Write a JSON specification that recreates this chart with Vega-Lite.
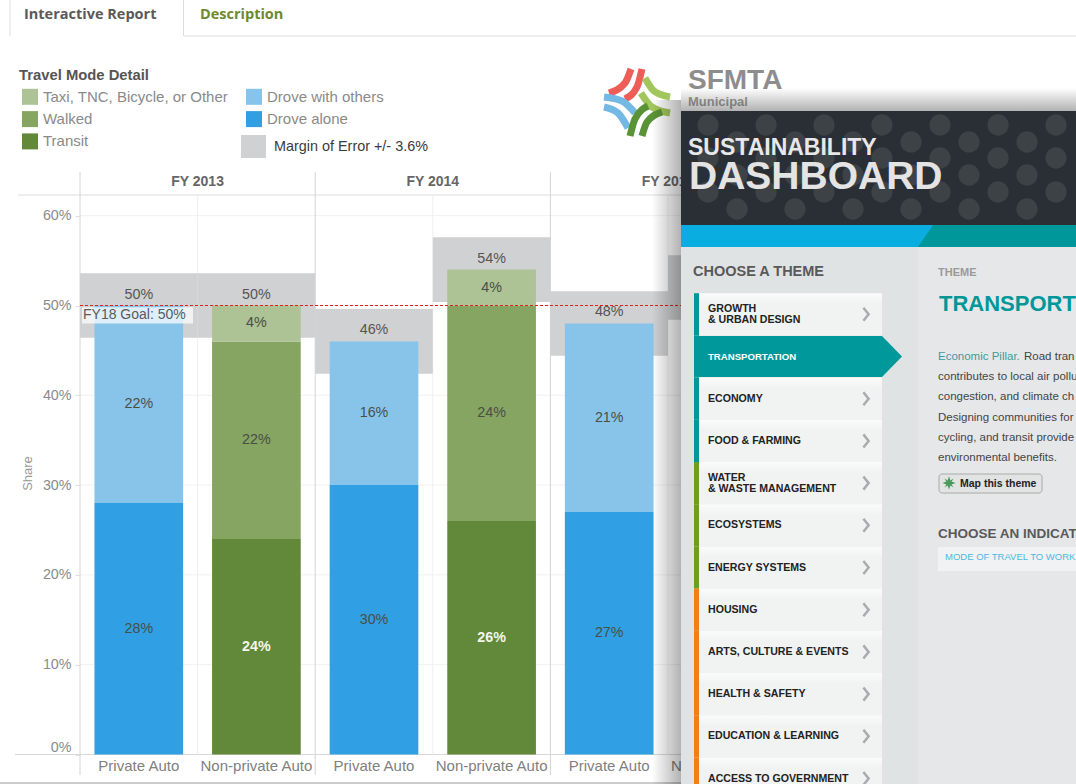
{
"$schema":"https://vega.github.io/schema/vega-lite/v6.json",
"width":1076,"height":784,"padding":0,"autosize":{"type":"fit","contains":"padding"},"background":"#ffffff",
"config":{"view":{"stroke":null},"font":"Liberation Sans","text":{"font":"Liberation Sans"}},
"datasets":{
"bars":[
{"fy":"FY 2013","group":"Private Auto","mode":"Drove alone","share":28},
{"fy":"FY 2013","group":"Private Auto","mode":"Drove with others","share":22},
{"fy":"FY 2013","group":"Non-private Auto","mode":"Transit","share":24},
{"fy":"FY 2013","group":"Non-private Auto","mode":"Walked","share":22},
{"fy":"FY 2013","group":"Non-private Auto","mode":"Taxi, TNC, Bicycle, or Other","share":4},
{"fy":"FY 2014","group":"Private Auto","mode":"Drove alone","share":30},
{"fy":"FY 2014","group":"Private Auto","mode":"Drove with others","share":16},
{"fy":"FY 2014","group":"Non-private Auto","mode":"Transit","share":26},
{"fy":"FY 2014","group":"Non-private Auto","mode":"Walked","share":24},
{"fy":"FY 2014","group":"Non-private Auto","mode":"Taxi, TNC, Bicycle, or Other","share":4},
{"fy":"FY 2015","group":"Private Auto","mode":"Drove alone","share":27},
{"fy":"FY 2015","group":"Private Auto","mode":"Drove with others","share":21}],
"totals":[
{"fy":"FY 2013","group":"Private Auto","total":50},
{"fy":"FY 2013","group":"Non-private Auto","total":50},
{"fy":"FY 2014","group":"Private Auto","total":46},
{"fy":"FY 2014","group":"Non-private Auto","total":54},
{"fy":"FY 2015","group":"Private Auto","total":48},
{"fy":"FY 2015","group":"Non-private Auto","total":52}],
"grid":[{"share":0},{"share":10},{"share":20},{"share":30},{"share":40},{"share":50},{"share":60}],
"goal":[{"goal":50,"label":"FY18 Goal: 50%"}],
"menu":[
{"theme":"GROWTH\n& URBAN DESIGN","i":0,"pillar":"Economic"},
{"theme":"TRANSPORTATION","i":1,"pillar":"Economic"},
{"theme":"ECONOMY","i":2,"pillar":"Economic"},
{"theme":"FOOD & FARMING","i":3,"pillar":"Economic"},
{"theme":"WATER\n& WASTE MANAGEMENT","i":4,"pillar":"Environmental"},
{"theme":"ECOSYSTEMS","i":5,"pillar":"Environmental"},
{"theme":"ENERGY SYSTEMS","i":6,"pillar":"Environmental"},
{"theme":"HOUSING","i":7,"pillar":"Social"},
{"theme":"ARTS, CULTURE & EVENTS","i":8,"pillar":"Social"},
{"theme":"HEALTH & SAFETY","i":9,"pillar":"Social"},
{"theme":"EDUCATION & LEARNING","i":10,"pillar":"Social"},
{"theme":"ACCESS TO GOVERNMENT","i":11,"pillar":"Social"}],
"panels":[
{"k":"margin","u":241,"u2":266,"v":135,"v2":158},
{"k":"header","u":681,"u2":1076,"v":111,"v2":225},
{"k":"teal","u":681,"u2":1076,"v":225,"v2":247},
{"k":"left","u":681,"u2":918,"v":247,"v2":784},
{"k":"right","u":918,"u2":1076,"v":247,"v2":784},
{"k":"box","u":938,"u2":1076,"v":547,"v2":571}],
"lines":[
{"k":"tab","u":10,"u2":10,"v":0,"v2":36},
{"k":"tab","u":183.5,"u2":183.5,"v":0,"v2":36},
{"k":"tab","u":184,"u2":1076,"v":36,"v2":36},
{"k":"page","u":0,"u2":681,"v":783,"v2":783}],
"logo":[
{"s":"r1","k":"red","n":0,"u":631,"v":69},{"s":"r1","k":"red","n":1,"u":625,"v":83},{"s":"r1","k":"red","n":2,"u":609,"v":93},
{"s":"r2","k":"red","n":0,"u":642,"v":69},{"s":"r2","k":"red","n":1,"u":637,"v":87},{"s":"r2","k":"red","n":2,"u":625,"v":99},
{"s":"b1","k":"blue","n":0,"u":604,"v":97},{"s":"b1","k":"blue","n":1,"u":622,"v":101},{"s":"b1","k":"blue","n":2,"u":635,"v":113},
{"s":"b2","k":"blue","n":0,"u":604,"v":107},{"s":"b2","k":"blue","n":1,"u":618,"v":113},{"s":"b2","k":"blue","n":2,"u":628,"v":128},
{"s":"g1","k":"lime","n":0,"u":645,"v":78},{"s":"g1","k":"lime","n":1,"u":654,"v":91},{"s":"g1","k":"lime","n":2,"u":670,"v":97},
{"s":"g2","k":"lime","n":0,"u":641,"v":93},{"s":"g2","k":"lime","n":1,"u":652,"v":107},{"s":"g2","k":"lime","n":2,"u":670,"v":113},
{"s":"d1","k":"forest","n":0,"u":630,"v":136},{"s":"d1","k":"forest","n":1,"u":635,"v":119},{"s":"d1","k":"forest","n":2,"u":648,"v":106},
{"s":"d2","k":"forest","n":0,"u":642,"v":136},{"s":"d2","k":"forest","n":1,"u":647,"v":122},{"s":"d2","k":"forest","n":2,"u":662,"v":112}],
"dots":[
{"u":708,"v":125},{"u":766,"v":125},{"u":824,"v":125},{"u":882,"v":125},{"u":940,"v":125},{"u":998,"v":125},{"u":1056,"v":125},
{"u":737,"v":142},{"u":795,"v":142},{"u":853,"v":142},{"u":911,"v":142},{"u":969,"v":142},{"u":1027,"v":142},
{"u":708,"v":158},{"u":766,"v":158},{"u":824,"v":158},{"u":882,"v":158},{"u":940,"v":158},{"u":998,"v":158},{"u":1056,"v":158},
{"u":737,"v":175},{"u":795,"v":175},{"u":853,"v":175},{"u":911,"v":175},{"u":969,"v":175},{"u":1027,"v":175},
{"u":708,"v":192},{"u":766,"v":192},{"u":824,"v":192},{"u":882,"v":192},{"u":940,"v":192},{"u":998,"v":192},{"u":1056,"v":192},
{"u":737,"v":209},{"u":795,"v":209},{"u":853,"v":209},{"u":911,"v":209},{"u":969,"v":209},{"u":1027,"v":209}],
"brand":[
{"t":"SFMTA","u":688,"v":81,"k":"sfmta"},
{"t":"Municipal","u":688,"v":102,"k":"agency"}],
"textBold":[
{"t":"SUSTAINABILITY","u":688,"v":148,"k":"dash1"},
{"t":"DASHBOARD","u":689,"v":177,"k":"dash2"},
{"t":"CHOOSE A THEME","u":693,"v":272,"k":"head"},
{"t":"THEME","u":938,"v":273,"k":"minor"},
{"t":"TRANSPORT","u":939,"v":304,"k":"title"},
{"t":"Map this theme","u":960,"v":484,"k":"button"},
{"t":"CHOOSE AN INDICAT","u":938,"v":534,"k":"indicator"}],
"textPlain":[
{"t":"Margin of Error +/- 3.6%","u":274,"v":147,"k":"moe"},
{"t":"Economic Pillar.","u":938,"v":357,"k":"pillar"},
{"t":"Road tran","u":1024,"v":357,"k":"body"},
{"t":"contributes to local air pollu","u":938,"v":377,"k":"body"},
{"t":"congestion, and climate ch","u":938,"v":397,"k":"body"},
{"t":"Designing communities for","u":938,"v":418,"k":"body"},
{"t":"cycling, and transit provide","u":938,"v":438,"k":"body"},
{"t":"environmental benefits.","u":938,"v":458,"k":"body"},
{"t":"MODE OF TRAVEL TO WORK","u":945,"v":557,"k":"link"}],
"tabs":[
{"t":"Interactive Report","u":24,"v":15,"k":"active"},
{"t":"Description","u":200,"v":15,"k":"other"}],
"button":[{"u":939,"u2":1042,"v":474,"v2":493}],
"star":[{"u":949,"v":483}],
"slant":[{"u":933,"u2":681,"v":225},{"u":918,"u2":681,"v":247}],
"arrow":[{"u":882,"u2":694,"v":336},{"u":902,"u2":694,"v":356.5},{"u":882,"u2":694,"v":377}],
"shadowLeft":[{"u":652,"u2":681,"v":100,"v2":784}],
"shadowTop":[{"u":681,"u2":1076,"v":88,"v2":111}]
},
"resolve":{"scale":{"x":"independent","y":"independent","color":"independent","size":"independent"},"axis":{"x":"independent","y":"independent"}},
"layer":[
{"layer":[
 {"data":{"name":"grid"},"mark":{"type":"rule","color":"#f1f1f1"},
  "encoding":{"x":{"datum":80,"type":"quantitative","scale":{"domain":[0,1076],"nice":false,"zero":false},"axis":null},"x2":{"datum":681},
  "y":{"field":"share","type":"quantitative","scale":{"domain":[-3.285,84.02],"nice":false,"zero":false},
   "axis":{"values":[0,10,20,30,40,50,60],"labelExpr":"datum.value+'%'","offset":-80,"domain":false,"grid":false,"tickSize":5,"tickColor":"#dddddd","labelColor":"#8a8a8a","labelFontSize":14.3,"labelPadding":4,"labelBaseline":{"expr":"datum.value==0?'bottom':'middle'"},"title":"Share","titleX":-46,"titleY":473,"titleColor":"#999999","titleFontSize":13,"titleFontWeight":"normal"}}}},
 {"data":{"values":[{"line":"header","share":62.3}]},"mark":{"type":"rule","color":"#dddddd"},
  "encoding":{"x":{"datum":18,"type":"quantitative","scale":{"domain":[0,1076],"nice":false,"zero":false},"axis":null},"x2":{"datum":681},"y":{"field":"share","type":"quantitative","scale":{"domain":[-3.285,84.02],"nice":false,"zero":false}}}},
 {"data":{"values":[{"line":"baseline","share":0}]},"mark":{"type":"rule","color":"#d8d8d8"},
  "encoding":{"x":{"datum":15,"type":"quantitative","scale":{"domain":[0,1076],"nice":false,"zero":false},"axis":null},"x2":{"datum":681},"y":{"field":"share","type":"quantitative","scale":{"domain":[-3.285,84.02],"nice":false,"zero":false}}}}
]},
{"encoding":{"x":{"field":"key","type":"nominal","scale":{"domain":["FY 2013|Private Auto","FY 2013|Non-private Auto","FY 2014|Private Auto","FY 2014|Non-private Auto","FY 2015|Private Auto","FY 2015|Non-private Auto"],"range":[80,785.6],"paddingInner":0,"paddingOuter":0},
  "axis":{"orient":"bottom","offset":-29.5,"domain":false,"ticks":false,"grid":false,"title":null,"labelAngle":0,"labelExpr":"split(datum.value,'|')[1]","labelFontSize":15,"labelColor":"#808080","labelPadding":4,"labelOverlap":false,"labelBound":false,"labelFlush":false}}},
 "layer":[
 {"data":{"name":"totals"},"transform":[{"filter":"datum.group=='Private Auto'"},{"calculate":"datum.fy+'|'+datum.group","as":"key"}],
  "mark":{"type":"rule","color":"#d4d4d4"},
  "encoding":{"x":{"field":"key","type":"nominal","bandPosition":0},"y":{"datum":64.87,"type":"quantitative","scale":{"domain":[-3.285,84.02],"nice":false,"zero":false},"axis":null},"y2":{"datum":-2.28}}},
 {"data":{"name":"totals"},"transform":[{"filter":"datum.group=='Non-private Auto'"},{"calculate":"datum.fy+'|'+datum.group","as":"key"}],
  "mark":{"type":"rule","color":"#efefef"},
  "encoding":{"x":{"field":"key","type":"nominal","bandPosition":0},"y":{"datum":62.3,"type":"quantitative","scale":{"domain":[-3.285,84.02],"nice":false,"zero":false},"axis":null},"y2":{"datum":0}}},
 {"data":{"name":"totals"},"transform":[{"calculate":"datum.fy+'|'+datum.group","as":"key"},{"calculate":"datum.total+3.6","as":"hi"},{"calculate":"datum.total-3.6","as":"lo"}],
  "mark":{"type":"bar","color":"#d0d1d2","width":{"band":1}},
  "encoding":{"y":{"field":"hi","type":"quantitative","scale":{"domain":[-3.285,84.02],"nice":false,"zero":false},"axis":null},"y2":{"field":"lo"}}},
 {"data":{"name":"bars"},"transform":[{"calculate":"datum.fy+'|'+datum.group","as":"key"},{"calculate":"indexof(['Drove alone','Drove with others','Transit','Walked','Taxi, TNC, Bicycle, or Other'],datum.mode)","as":"rank"},{"stack":"share","groupby":["key"],"sort":[{"field":"rank","order":"ascending"}],"as":["y0","y1"]}],
  "mark":{"type":"bar","width":{"band":0.754}},
  "encoding":{"y":{"field":"y0","type":"quantitative","scale":{"domain":[-3.285,84.02],"nice":false,"zero":false},"axis":null},"y2":{"field":"y1"},
   "color":{"field":"mode","type":"nominal","scale":{"domain":["Taxi, TNC, Bicycle, or Other","Walked","Transit","Drove with others","Drove alone"],"range":["#adc295","#86a562","#62883a","#88c4ea","#319fe3"]},
    "legend":{"orient":"none","legendX":19,"legendY":68,"columns":2,"title":"Travel Mode Detail","titleFontSize":14.8,"titleColor":"#555555","titleFontWeight":"bold","titlePadding":6,"labelFontSize":15,"labelColor":"#8a8a8a","labelOffset":5,"symbolType":"square","symbolSize":256,"symbolStrokeWidth":0,"symbolOffset":3,"rowPadding":6.3,"columnPadding":14,"labelLimit":300}}}},
 {"data":{"name":"bars"},"transform":[{"calculate":"datum.fy+'|'+datum.group","as":"key"},{"calculate":"indexof(['Drove alone','Drove with others','Transit','Walked','Taxi, TNC, Bicycle, or Other'],datum.mode)","as":"rank"},{"stack":"share","groupby":["key"],"sort":[{"field":"rank","order":"ascending"}],"as":["y0","y1"]},{"calculate":"(datum.y0+datum.y1)/2","as":"mid"},{"calculate":"datum.share+'%'","as":"pct"},{"filter":"datum.mode!='Transit'"}],
  "mark":{"type":"text","fontSize":14.3,"color":"#484f45","baseline":"middle"},
  "encoding":{"y":{"field":"mid","type":"quantitative","scale":{"domain":[-3.285,84.02],"nice":false,"zero":false},"axis":null},"text":{"field":"pct"}}},
 {"data":{"name":"bars"},"transform":[{"calculate":"datum.fy+'|'+datum.group","as":"key"},{"filter":"datum.mode=='Transit'"},{"calculate":"datum.share/2","as":"mid"},{"calculate":"datum.share+'%'","as":"pct"}],
  "mark":{"type":"text","fontSize":14.3,"fontWeight":"bold","color":"#f2f6ea","baseline":"middle"},
  "encoding":{"y":{"field":"mid","type":"quantitative","scale":{"domain":[-3.285,84.02],"nice":false,"zero":false},"axis":null},"text":{"field":"pct"}}},
 {"data":{"name":"totals"},"transform":[{"calculate":"datum.fy+'|'+datum.group","as":"key"},{"calculate":"datum.total+'%'","as":"pct"}],
  "mark":{"type":"text","fontSize":14.3,"color":"#555555","baseline":"middle","dy":-11},
  "encoding":{"y":{"field":"total","type":"quantitative","scale":{"domain":[-3.285,84.02],"nice":false,"zero":false},"axis":null},"text":{"field":"pct"}}},
 {"data":{"name":"totals"},"transform":[{"filter":"datum.group=='Private Auto'"},{"calculate":"datum.fy+'|'+datum.group","as":"key"}],
  "mark":{"type":"text","fontSize":14,"fontWeight":"bold","color":"#666666","baseline":"middle"},
  "encoding":{"x":{"field":"key","type":"nominal","bandPosition":1},"y":{"datum":63.75,"type":"quantitative","scale":{"domain":[-3.285,84.02],"nice":false,"zero":false},"axis":null},"text":{"field":"fy"}}}
]},
{"data":{"name":"goal"},"layer":[
 {"mark":{"type":"rect","color":"#ffffff","opacity":0.72},
  "encoding":{"x":{"datum":82,"type":"quantitative","scale":{"domain":[0,1076],"nice":false,"zero":false},"axis":null},"x2":{"datum":193},"y":{"datum":49.8,"type":"quantitative","scale":{"domain":[-3.285,84.02],"nice":false,"zero":false},"axis":null},"y2":{"datum":48}}},
 {"mark":{"type":"text","fontSize":14,"color":"#5a5a5a","align":"left","baseline":"middle"},
  "encoding":{"x":{"datum":83,"type":"quantitative","scale":{"domain":[0,1076],"nice":false,"zero":false},"axis":null},"y":{"datum":48.9,"type":"quantitative","scale":{"domain":[-3.285,84.02],"nice":false,"zero":false},"axis":null},"text":{"field":"label"}}},
 {"mark":{"type":"rule","strokeDash":[3,2],"strokeWidth":1.2},
  "encoding":{"color":{"value":"#e0211b"},"x":{"datum":80,"type":"quantitative","scale":{"domain":[0,1076],"nice":false,"zero":false},"axis":null},"x2":{"datum":681},"y":{"field":"goal","type":"quantitative","scale":{"domain":[-3.285,84.02],"nice":false,"zero":false},"axis":null}}}
]},
{"encoding":{"x":{"field":"u","type":"quantitative","scale":{"domain":[0,1076],"nice":false,"zero":false},"axis":null},"y":{"field":"v","type":"quantitative","scale":{"domain":[784,0],"nice":false,"zero":false},"axis":null}},
 "layer":[
 {"data":{"name":"lines"},"mark":{"type":"rule","clip":true},"encoding":{"x2":{"field":"u2"},"y2":{"field":"v2"},"color":{"field":"k","type":"nominal","legend":null,"scale":{"domain":["tab","page","active","other","red","blue","lime","forest","margin","header","teal","left","right","box","sfmta","agency","dash1","dash2","head","minor","title","button","indicator","moe","pillar","body","link"],"range":["#dddddd","#999999","#5a5a5a","#6d8a30","#ee5e58","#74b8e4","#a2c65e","#5a9335","#d0d1d2","#2a2e35","#00979a","#e0e3e4","#e6e7e9","#f1f2f3","#8d8d8d","#a0a0a0","#e8e8e8","#e4e4e4","#58595b","#9a9a9a","#00979a","#222222","#58595b","#3a3a3a","#3f9a9c","#444444","#4fb7e0"]}}}},
 {"data":{"name":"tabs"},"mark":{"type":"text","font":"Open Sans","fontWeight":"bold","fontSize":14.5,"align":"left","baseline":"middle"},"encoding":{"text":{"field":"t"},"color":{"field":"k","type":"nominal","legend":null,"scale":{"domain":["tab","page","active","other","red","blue","lime","forest","margin","header","teal","left","right","box","sfmta","agency","dash1","dash2","head","minor","title","button","indicator","moe","pillar","body","link"],"range":["#dddddd","#999999","#5a5a5a","#6d8a30","#ee5e58","#74b8e4","#a2c65e","#5a9335","#d0d1d2","#2a2e35","#00979a","#e0e3e4","#e6e7e9","#f1f2f3","#8d8d8d","#a0a0a0","#e8e8e8","#e4e4e4","#58595b","#9a9a9a","#00979a","#222222","#58595b","#3a3a3a","#3f9a9c","#444444","#4fb7e0"]}}}},
 {"data":{"name":"logo"},"mark":{"type":"line","interpolate":"monotone","strokeWidth":7,"strokeCap":"butt"},"encoding":{"detail":{"field":"s"},"order":{"field":"n","type":"quantitative"},"color":{"field":"k","type":"nominal","legend":null,"scale":{"domain":["tab","page","active","other","red","blue","lime","forest","margin","header","teal","left","right","box","sfmta","agency","dash1","dash2","head","minor","title","button","indicator","moe","pillar","body","link"],"range":["#dddddd","#999999","#5a5a5a","#6d8a30","#ee5e58","#74b8e4","#a2c65e","#5a9335","#d0d1d2","#2a2e35","#00979a","#e0e3e4","#e6e7e9","#f1f2f3","#8d8d8d","#a0a0a0","#e8e8e8","#e4e4e4","#58595b","#9a9a9a","#00979a","#222222","#58595b","#3a3a3a","#3f9a9c","#444444","#4fb7e0"]}}}},
 {"data":{"name":"brand"},"mark":{"type":"text","fontWeight":"bold","align":"left","baseline":"middle"},"encoding":{"text":{"field":"t"},
   "color":{"field":"k","type":"nominal","legend":null,"scale":{"domain":["tab","page","active","other","red","blue","lime","forest","margin","header","teal","left","right","box","sfmta","agency","dash1","dash2","head","minor","title","button","indicator","moe","pillar","body","link"],"range":["#dddddd","#999999","#5a5a5a","#6d8a30","#ee5e58","#74b8e4","#a2c65e","#5a9335","#d0d1d2","#2a2e35","#00979a","#e0e3e4","#e6e7e9","#f1f2f3","#8d8d8d","#a0a0a0","#e8e8e8","#e4e4e4","#58595b","#9a9a9a","#00979a","#222222","#58595b","#3a3a3a","#3f9a9c","#444444","#4fb7e0"]}},
   "size":{"field":"k","type":"ordinal","legend":null,"scale":{"type":"ordinal","domain":["sfmta","agency","dash1","dash2","head","minor","title","button","indicator","moe","pillar","body","link"],"range":[28,13,23,39,14.5,11,22,10.5,13.5,14.4,11.5,11.5,9.5]}}}},
 {"data":{"name":"shadowLeft"},"mark":{"type":"rect","color":{"gradient":"linear","x1":0,"y1":0,"x2":1,"y2":0,"stops":[{"offset":0,"color":"rgba(0,0,0,0)"},{"offset":1,"color":"rgba(0,0,0,0.3)"}]}},"encoding":{"x2":{"field":"u2"},"y2":{"field":"v2"}}},
 {"data":{"name":"shadowTop"},"mark":{"type":"rect","color":{"gradient":"linear","x1":0,"y1":0,"x2":0,"y2":1,"stops":[{"offset":0,"color":"rgba(0,0,0,0)"},{"offset":1,"color":"rgba(0,0,0,0.3)"}]}},"encoding":{"x2":{"field":"u2"},"y2":{"field":"v2"}}},
 {"data":{"name":"panels"},"mark":{"type":"rect"},"encoding":{"x2":{"field":"u2"},"y2":{"field":"v2"},"color":{"field":"k","type":"nominal","legend":null,"scale":{"domain":["tab","page","active","other","red","blue","lime","forest","margin","header","teal","left","right","box","sfmta","agency","dash1","dash2","head","minor","title","button","indicator","moe","pillar","body","link"],"range":["#dddddd","#999999","#5a5a5a","#6d8a30","#ee5e58","#74b8e4","#a2c65e","#5a9335","#d0d1d2","#2a2e35","#00979a","#e0e3e4","#e6e7e9","#f1f2f3","#8d8d8d","#a0a0a0","#e8e8e8","#e4e4e4","#58595b","#9a9a9a","#00979a","#222222","#58595b","#3a3a3a","#3f9a9c","#444444","#4fb7e0"]}}}},
 {"data":{"name":"dots"},"mark":{"type":"point","filled":true,"opacity":1,"color":"#3d4246","size":452}},
 {"data":{"name":"slant"},"mark":{"type":"area","orient":"horizontal","color":"#0aade0"},"encoding":{"x2":{"field":"u2"}}},
 {"data":{"name":"arrow"},"mark":{"type":"area","orient":"horizontal","color":"#00989a"},"encoding":{"x2":{"field":"u2"}}},
 {"data":{"name":"button"},"mark":{"type":"rect","color":"#e2e3e3","stroke":"#aaaaaa","strokeWidth":1,"cornerRadius":3},"encoding":{"x2":{"field":"u2"},"y2":{"field":"v2"}}},
 {"data":{"name":"star"},"mark":{"type":"point","shape":"M0,-1L0.22,-0.4L0.7,-0.7L0.4,-0.22L1,0L0.4,0.22L0.7,0.7L0.22,0.4L0,1L-0.22,0.4L-0.7,0.7L-0.4,0.22L-1,0L-0.4,-0.22L-0.7,-0.7L-0.22,-0.4Z","filled":true,"opacity":1,"color":"#4a9a5b","size":170}},
 {"data":{"name":"textBold"},"mark":{"type":"text","fontWeight":"bold","align":"left","baseline":"middle","clip":true},"encoding":{"text":{"field":"t"},
   "color":{"field":"k","type":"nominal","legend":null,"scale":{"domain":["tab","page","active","other","red","blue","lime","forest","margin","header","teal","left","right","box","sfmta","agency","dash1","dash2","head","minor","title","button","indicator","moe","pillar","body","link"],"range":["#dddddd","#999999","#5a5a5a","#6d8a30","#ee5e58","#74b8e4","#a2c65e","#5a9335","#d0d1d2","#2a2e35","#00979a","#e0e3e4","#e6e7e9","#f1f2f3","#8d8d8d","#a0a0a0","#e8e8e8","#e4e4e4","#58595b","#9a9a9a","#00979a","#222222","#58595b","#3a3a3a","#3f9a9c","#444444","#4fb7e0"]}},
   "size":{"field":"k","type":"ordinal","legend":null,"scale":{"type":"ordinal","domain":["sfmta","agency","dash1","dash2","head","minor","title","button","indicator","moe","pillar","body","link"],"range":[28,13,23,39,14.5,11,22,10.5,13.5,14.4,11.5,11.5,9.5]}}}},
 {"data":{"name":"textPlain"},"mark":{"type":"text","align":"left","baseline":"middle","clip":true},"encoding":{"text":{"field":"t"},
   "color":{"field":"k","type":"nominal","legend":null,"scale":{"domain":["tab","page","active","other","red","blue","lime","forest","margin","header","teal","left","right","box","sfmta","agency","dash1","dash2","head","minor","title","button","indicator","moe","pillar","body","link"],"range":["#dddddd","#999999","#5a5a5a","#6d8a30","#ee5e58","#74b8e4","#a2c65e","#5a9335","#d0d1d2","#2a2e35","#00979a","#e0e3e4","#e6e7e9","#f1f2f3","#8d8d8d","#a0a0a0","#e8e8e8","#e4e4e4","#58595b","#9a9a9a","#00979a","#222222","#58595b","#3a3a3a","#3f9a9c","#444444","#4fb7e0"]}},
   "size":{"field":"k","type":"ordinal","legend":null,"scale":{"type":"ordinal","domain":["sfmta","agency","dash1","dash2","head","minor","title","button","indicator","moe","pillar","body","link"],"range":[28,13,23,39,14.5,11,22,10.5,13.5,14.4,11.5,11.5,9.5]}}}}
]},
{"data":{"name":"menu"},
 "layer":[
 {"transform":[{"calculate":"datum.i-0.5","as":"a"},{"calculate":"datum.i+0.5","as":"b"}],"mark":{"type":"rect","clip":true},
  "encoding":{"x":{"datum":694,"type":"quantitative","scale":{"domain":[0,1076],"nice":false,"zero":false},"axis":null},"x2":{"datum":699},"y":{"field":"a","type":"quantitative","scale":{"domain":[11.13,-7.448],"nice":false,"zero":false},"axis":null},"y2":{"field":"b"},
   "color":{"field":"pillar","type":"nominal","legend":null,"scale":{"domain":["Economic","Environmental","Social"],"range":["#00989a","#6f9c22","#f57e12"]}}}},
 {"transform":[{"filter":"datum.i!=1"},{"calculate":"datum.i-0.5","as":"a"},{"calculate":"datum.i+0.5","as":"b"}],
  "mark":{"type":"rect","clip":true,"color":{"gradient":"linear","x1":0,"y1":0,"x2":0,"y2":1,"stops":[{"offset":0,"color":"#fbfbfb"},{"offset":0.25,"color":"#f1f2f2"},{"offset":1,"color":"#f1f2f2"}]}},
  "encoding":{"x":{"datum":699,"type":"quantitative","scale":{"domain":[0,1076],"nice":false,"zero":false},"axis":null},"x2":{"datum":882},"y":{"field":"a","type":"quantitative","scale":{"domain":[11.13,-7.448],"nice":false,"zero":false},"axis":null},"y2":{"field":"b"}}},
 {"transform":[{"filter":"datum.i!=1"}],"mark":{"type":"point","shape":"M -0.4,-1 L 0.4,0 L -0.4,1","filled":false,"opacity":1,"stroke":"#a9abad","strokeWidth":2.5,"size":170,"clip":true},
  "encoding":{"x":{"datum":866,"type":"quantitative","scale":{"domain":[0,1076],"nice":false,"zero":false},"axis":null},"y":{"field":"i","type":"quantitative","scale":{"domain":[11.13,-7.448],"nice":false,"zero":false},"axis":null}}},
 {"transform":[{"filter":"datum.i!=1"},{"calculate":"indexof(datum.theme,'\\n')>=0?datum.i-0.13:datum.i","as":"ty"}],"mark":{"type":"text","fontWeight":"bold","fontSize":10.6,"color":"#222222","align":"left","baseline":"middle","lineBreak":"\n","lineHeight":11.2,"clip":true},
  "encoding":{"x":{"datum":708,"type":"quantitative","scale":{"domain":[0,1076],"nice":false,"zero":false},"axis":null},"y":{"field":"ty","type":"quantitative","scale":{"domain":[11.13,-7.448],"nice":false,"zero":false},"axis":null},"text":{"field":"theme"}}},
 {"transform":[{"filter":"datum.i==1"}],"mark":{"type":"text","fontWeight":"bold","fontSize":9.6,"color":"#ffffff","align":"left","baseline":"middle"},
  "encoding":{"x":{"datum":708,"type":"quantitative","scale":{"domain":[0,1076],"nice":false,"zero":false},"axis":null},"y":{"field":"i","type":"quantitative","scale":{"domain":[11.13,-7.448],"nice":false,"zero":false},"axis":null},"text":{"field":"theme"}}}
]}
]}
